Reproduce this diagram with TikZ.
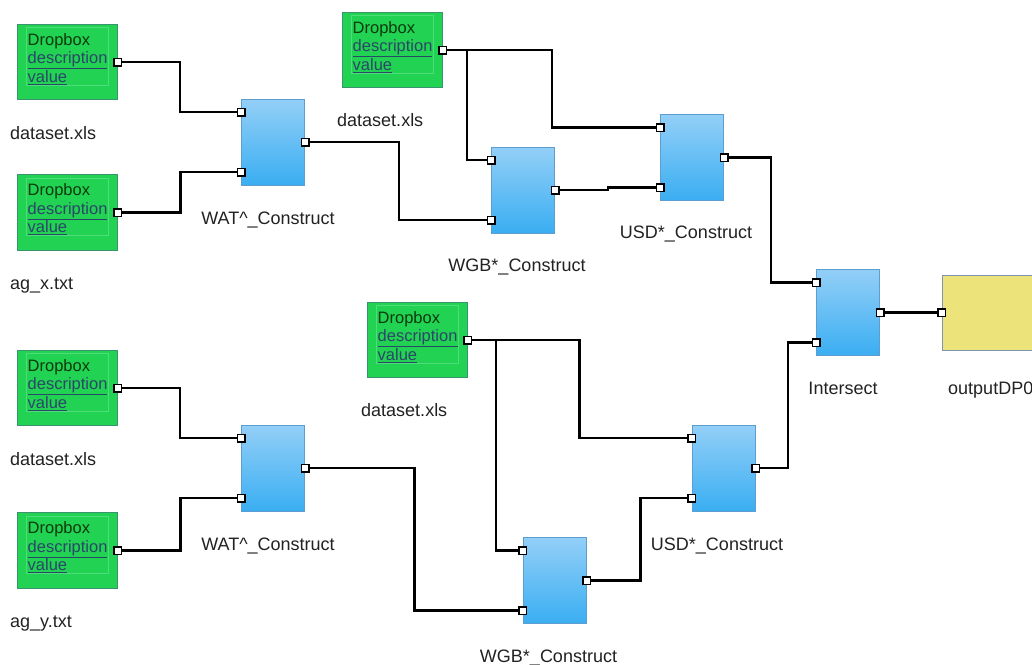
\documentclass[tikz,border=0pt]{standalone}
\usepackage{fontspec}
\setmainfont{Liberation Sans}
\usetikzlibrary{calc}
\definecolor{gfill}{HTML}{22D253}
\definecolor{gdraw}{HTML}{3A9470}
\definecolor{ginner}{HTML}{4FDD7C}
\definecolor{btop}{HTML}{93CFF7}
\definecolor{bbot}{HTML}{3AAEF2}
\definecolor{bdraw}{HTML}{5E9DD0}
\definecolor{yfill}{HTML}{ECE37A}
\definecolor{ydraw}{HTML}{7F92B0}
\definecolor{dbtext}{HTML}{0B3A0B}
\definecolor{lnk}{HTML}{2A4868}
\definecolor{lbl}{HTML}{222222}
\pgfdeclarelayer{bg}
\pgfdeclarelayer{wires}
\pgfsetlayers{bg,wires,main}
\tikzset{
  x=1pt,y=-1pt,
  greenbox/.style={draw=gdraw,line width=1pt,fill=gfill,minimum width=100pt,minimum height=75.5pt,inner sep=0pt},
  bluebox/.style={draw=bdraw,line width=1pt,top color=btop,bottom color=bbot,minimum width=63pt,minimum height=86pt,inner sep=0pt},
  yellowbox/.style={draw=ydraw,line width=1pt,fill=yfill,minimum width=120pt,minimum height=75pt,inner sep=0pt},
  port/.style={draw=black,line width=1.5pt,fill=white,minimum size=7.5pt,inner sep=0pt},
  wire/.style={draw=black,line width=2.2pt},
  boxtext/.style={anchor=north west,inner sep=0pt,align=left,font=\fontsize{16.5}{18.4}\selectfont},
  lab/.style={inner sep=0pt,text=lbl,font=\fontsize{18}{20}\selectfont},
}
\newcommand{\dbtext}{{\color{dbtext}Dropbox}\\{\color{lnk}\underline{description}}\\{\color{lnk}\underline{value}}}
\begin{document}
\begin{tikzpicture}
\begin{pgfonlayer}{bg}
\fill[white] (0,0) rectangle (1032,664);
\end{pgfonlayer}
\useasboundingbox (0,0) rectangle (1032,664);
% green dropbox nodes
\node[greenbox] (g1) at (67,62) {};
\node[greenbox] (g2) at (67,212.5) {};
\node[greenbox] (g3) at (392,50) {};
\node[greenbox] (g4) at (417,340) {};
\node[greenbox] (g5) at (67,388) {};
\node[greenbox] (g6) at (67,550.5) {};
\foreach \g in {g1,g2,g3,g4,g5,g6}{
  \draw[ginner,line width=0.5pt] ($(\g.north west)+(10,3.5)$) rectangle ($(\g.south east)+(-9.5,-15.5)$);
  \node[boxtext] (\g t) at ($(\g.north west)+(11,9.5)$) {\dbtext};
  \node[port] (\g p) at (\g.east) {};
}
% blue construct nodes
\node[bluebox] (wat1) at (273,142) {};
\node[bluebox] (wgb1) at (523,190) {};
\node[bluebox] (usd1) at (692,157.5) {};
\node[bluebox] (isec) at (848,312.5) {};
\node[bluebox] (wat2) at (273,468) {};
\node[bluebox] (wgb2) at (554.5,580.5) {};
\node[bluebox] (usd2) at (723.5,468) {};
\node[yellowbox] (out) at (1002,312.5) {};
\foreach \b in {wat1,wgb1,usd1,isec,wat2,wgb2,usd2}{
  \node[port] (\b a) at ($(\b.west)+(0,-30)$) {};
  \node[port] (\b b) at ($(\b.west)+(0,30)$) {};
  \node[port] (\b o) at (\b.east) {};
}
\node[port] (outa) at (out.west) {};
% labels
\node[lab,anchor=base west] (l1) at (10,139) {dataset.xls};
\node[lab,anchor=base west] (l2) at (10,289) {ag\_x.txt};
\node[lab,anchor=base west] (l3) at (337,126) {dataset.xls};
\node[lab,anchor=base west] (l4) at (361,416) {dataset.xls};
\node[lab,anchor=base west] (l5) at (10,465) {dataset.xls};
\node[lab,anchor=base west] (l6) at (10,627) {ag\_y.txt};
\node[lab,anchor=base] (lw1) at (268,224) {WAT\textasciicircum\_Construct};
\node[lab,anchor=base] (lg1) at (517,271) {WGB*\_Construct};
\node[lab,anchor=base] (lu1) at (686,238) {USD*\_Construct};
\node[lab,anchor=base] (li) at (843,394) {Intersect};
\node[lab,anchor=base west] (lo) at (948,394) {outputDP0};
\node[lab,anchor=base] (lw2) at (268,550) {WAT\textasciicircum\_Construct};
\node[lab,anchor=base] (lu2) at (717,550) {USD*\_Construct};
\node[lab,anchor=base] (lg2) at (548.5,662) {WGB*\_Construct};
% wires
\begin{pgfonlayer}{wires}
\draw[wire] (g1p) -- ++(62.5,0) |- (wat1a);
\draw[wire] (g2p) -- ++(63,0) |- (wat1b);
\draw[wire] (wat1o) -- ++(94,0) |- (wgb1b);
\draw[wire] (g3p) -- ++(24.5,0) |- (wgb1a);
\draw[wire] (g3p) -- ++(109.5,0) |- (usd1a);
\draw[wire] (wgb1o) -- ++(53,0) |- (usd1b);
\draw[wire] (usd1o) -- ++(47,0) |- (iseca);
\draw[wire] (usd2o) -- ++(32.5,0) |- (isecb);
\draw[wire] (iseco) -- (outa);
\draw[wire] (g5p) -- ++(62.5,0) |- (wat2a);
\draw[wire] (g6p) -- ++(63,0) |- (wat2b);
\draw[wire] (wat2o) -- ++(109.5,0) |- (wgb2b);
\draw[wire] (g4p) -- ++(28.5,0) |- (wgb2a);
\draw[wire] (g4p) -- ++(112,0) |- (usd2a);
\draw[wire] (wgb2o) -- ++(54,0) |- (usd2b);
\end{pgfonlayer}
\end{tikzpicture}
\end{document}
